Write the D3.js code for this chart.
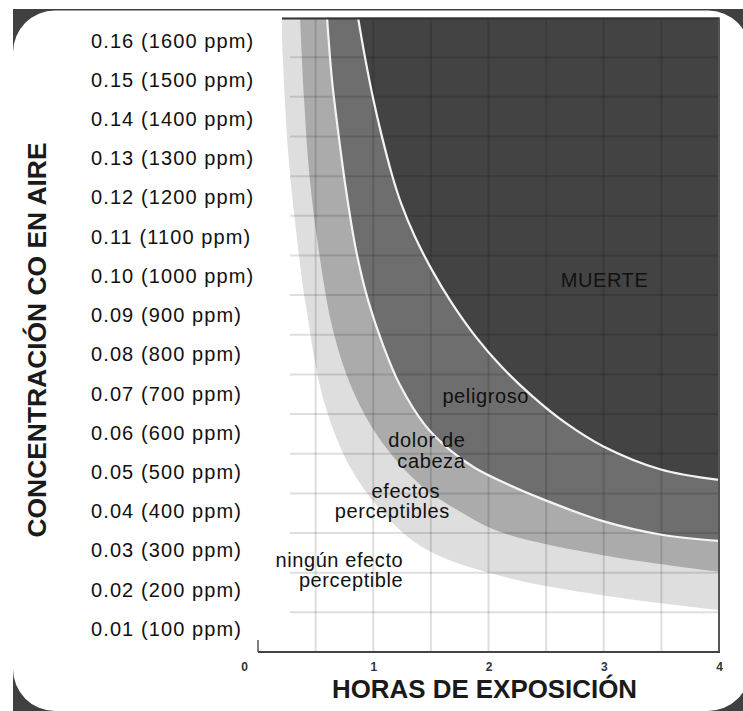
<!DOCTYPE html>
<html><head><meta charset="utf-8">
<script src="https://cdn.jsdelivr.net/npm/d3@7"></script>
<style>body{margin:0;background:#fff}svg{display:block}</style>
</head><body>
<svg id="c" width="743" height="711"></svg>
<script>
// ---- data ----
const hourTicks = [0, 1, 2, 3, 4];
const hourGrid = [0.5, 1, 1.5, 2, 2.5, 3, 3.5];
const concTicks = [0.01,0.02,0.03,0.04,0.05,0.06,0.07,0.08,0.09,0.10,0.11,0.12,0.13,0.14,0.15,0.16];
const concLabels = ["0.01 (100 ppm)","0.02 (200 ppm)","0.03 (300 ppm)","0.04 (400 ppm)","0.05 (500 ppm)",
  "0.06 (600 ppm)","0.07 (700 ppm)","0.08 (800 ppm)","0.09 (900 ppm)","0.10 (1000 ppm)","0.11 (1100 ppm)",
  "0.12 (1200 ppm)","0.13 (1300 ppm)","0.14 (1400 ppm)","0.15 (1500 ppm)","0.16 (1600 ppm)"];
// boundary curves [hours, concentration]
const edgePerceptible = [[0.20,0.160],[0.26,0.1266],[0.35,0.1014],[0.408,0.0888],[0.57,0.0635],[0.80,0.0466],[1.12,0.0340],[1.47,0.0257],[2.10,0.0192],[2.97,0.0144],[4.0,0.0106]];
const edgeHeadache = [[0.365,0.160],[0.40,0.1392],[0.45,0.1190],[0.54,0.0988],[0.65,0.0812],[0.82,0.0661],[1.06,0.0535],[1.41,0.0421],[1.76,0.0353],[2.10,0.0303],[2.97,0.0245],[4.0,0.0202]];
const edgeDanger = [[0.599,0.160],[0.642,0.1442],[0.694,0.1316],[0.764,0.1165],[0.850,0.1014],[0.954,0.0888],[1.085,0.0774],[1.232,0.0673],[1.449,0.0572],[1.666,0.0509],[1.883,0.0464],[2.143,0.0426],[2.490,0.0383],[2.993,0.0330],[3.514,0.0295],[4.0,0.0280]];
const edgeDeath = [[0.868,0.160],[0.928,0.1500],[0.998,0.1397],[1.076,0.1299],[1.163,0.1203],[1.241,0.1132],[1.362,0.1047],[1.510,0.0963],[1.675,0.0883],[1.892,0.0794],[2.108,0.0721],[2.377,0.0646],[2.672,0.0577],[2.993,0.0519],[3.488,0.0461],[4.0,0.0434]];
const bandEdges = [edgePerceptible, edgeHeadache, edgeDanger, edgeDeath];
const bandColors = ["#dedede", "#ababab", "#6e6e6e", "#434343"];
const whiteEdges = [edgeDanger, edgeDeath];
const notes = [
  {t:"MUERTE", h:2.626, c:0.0920, a:"start"},
  {t:"peligroso", h:1.60, c:0.0628, a:"start"},
  {t:"dolor de", h:1.80, c:0.0517, a:"end"},
  {t:"cabeza", h:1.80, c:0.0464, a:"end"},
  {t:"efectos", h:1.283, c:0.0388, a:"middle"},
  {t:"perceptibles", h:1.165, c:0.0338, a:"middle"},
  {t:"ningún efecto", h:1.261, c:0.0214, a:"end"},
  {t:"perceptible", h:1.261, c:0.0164, a:"end"}
];
const yTitle = "CONCENTRACIÓN CO EN AIRE";
const xTitle = "HORAS DE EXPOSICIÓN";

// ---- drawing ----
const svg = d3.select("#c");
const W = 743, H = 711;
const x = d3.scaleLinear().domain([0, 4]).range([258, 719]);
const y = d3.scaleLinear().domain([0, 0.16]).range([652, 17.5]);
const font = "'Liberation Sans', Arial, Helvetica, sans-serif";
const curve = d3.curveCatmullRom.alpha(0.5);

// frame
svg.append("rect").attr("width", W).attr("height", H).attr("fill", "#fff");
svg.append("rect").attr("x", 13).attr("y", 9).attr("width", W - 13).attr("height", H - 9).attr("fill", "#404040");
svg.append("rect").attr("x", 13).attr("y", 10.5).attr("width", 737).attr("height", 700.5).attr("rx", 42).attr("fill", "#fff");

// clip for plot
const plotLeft = 282;
svg.append("clipPath").attr("id", "pc").append("rect")
  .attr("x", plotLeft).attr("y", y(0.16)).attr("width", x(4) - plotLeft).attr("height", y(0) - y(0.16));
const plot = svg.append("g").attr("clip-path", "url(#pc)");

const area = d3.area().x(d => x(d[0])).y0(y(0.16)).y1(d => y(d[1])).curve(curve);
bandEdges.forEach((e, i) => {
  plot.append("path").datum(e).attr("d", area).attr("fill", bandColors[i]);
});

// grid
const gridG = plot.append("g").attr("stroke", "rgba(0,0,0,0.13)").attr("stroke-width", 2);
gridG.selectAll("line.v").data(hourGrid).join("line")
  .attr("x1", d => x(d)).attr("x2", d => x(d)).attr("y1", y(0.16)).attr("y2", y(0));
gridG.selectAll("line.h").data(concTicks.slice(0, -1)).join("line")
  .attr("x1", 290).attr("x2", x(4)).attr("y1", d => y(d)).attr("y2", d => y(d));

// white boundary lines
const line = d3.line().x(d => x(d[0])).y(d => y(d[1])).curve(curve);
whiteEdges.forEach(e => {
  plot.append("path").datum(e).attr("d", line).attr("fill", "none")
    .attr("stroke", "#f4f4f4").attr("stroke-width", 2.2);
});

// borders
svg.append("line").attr("x1", plotLeft).attr("x2", x(4)).attr("y1", y(0.16)+1).attr("y2", y(0.16)+1)
  .attr("stroke", "#333").attr("stroke-width", 2);
svg.append("line").attr("x1", x(4)).attr("x2", x(4)).attr("y1", y(0.16)).attr("y2", y(0))
  .attr("stroke", "#555").attr("stroke-width", 2);
svg.append("line").attr("x1", x(0)).attr("x2", x(4)+1).attr("y1", y(0)).attr("y2", y(0))
  .attr("stroke", "#444").attr("stroke-width", 2);
svg.append("line").attr("x1", x(0)).attr("x2", x(0)).attr("y1", y(0) - 12).attr("y2", y(0))
  .attr("stroke", "#555").attr("stroke-width", 1.5);

// y axis labels (left aligned)
const yAxis = d3.axisLeft(y).tickValues(concTicks).tickFormat((d, i) => concLabels[i]).tickSize(0).tickPadding(0);
const ya = svg.append("g").attr("transform", "translate(91,0)").call(yAxis);
ya.select(".domain").remove();
ya.selectAll("text")
  .attr("text-anchor", "start").attr("x", 0)
  .attr("dy", d => (16 + (d - 0.01) / 0.15 * 6.5 + 7) + "px")
  .attr("font-family", font).attr("font-size", 20).attr("letter-spacing", "1.1px").attr("fill", "#111");

// x axis labels
const xAxis = d3.axisBottom(x).tickValues(hourTicks).tickFormat(d3.format("d")).tickSize(0).tickPadding(0);
const xa = svg.append("g").attr("transform", `translate(0,${y(0)})`).call(xAxis);
xa.select(".domain").remove();
xa.selectAll("text").attr("y", 10).attr("dy", "0.71em")
  .attr("dx", d => d === 0 ? -14 : 0)
  .attr("font-family", font).attr("font-size", 12).attr("font-weight", "bold").attr("fill", "#333");

// annotations
svg.append("g").selectAll("text").data(notes).join("text")
  .attr("x", d => x(d.h)).attr("y", d => y(d.c)).attr("text-anchor", d => d.a)
  .attr("font-family", font).attr("font-size", 20).attr("letter-spacing", "0.6px").attr("fill", "#111")
  .text(d => d.t);

// titles
svg.append("text").attr("transform", "translate(46,340) rotate(-90)").attr("text-anchor", "middle")
  .attr("font-family", font).attr("font-weight", "bold").attr("font-size", 26).attr("fill", "#1a1a1a")
  .attr("textLength", 395).attr("lengthAdjust", "spacingAndGlyphs").text(yTitle);
svg.append("text").attr("x", 484.5).attr("y", 698).attr("text-anchor", "middle")
  .attr("font-family", font).attr("font-weight", "bold").attr("font-size", 26).attr("fill", "#1a1a1a")
  .attr("textLength", 305).attr("lengthAdjust", "spacingAndGlyphs").text(xTitle);
</script>
</body></html>
